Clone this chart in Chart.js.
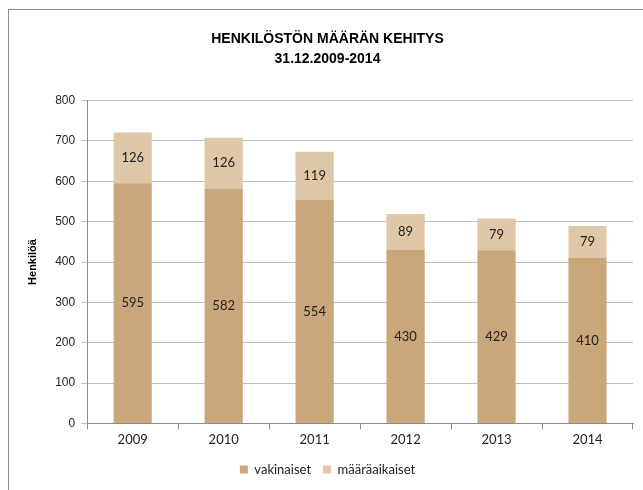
<!DOCTYPE html>
<html>
<head>
<meta charset="utf-8">
<script src="https://cdn.jsdelivr.net/npm/chart.js@4"></script>
<style>
  html, body { margin: 0; padding: 0; background: #fff; }
  #kehys { position: absolute; left: 8px; top: 9px; width: 660px; height: 500px; border-left: 1px solid #8c8c8c; border-top: 1px solid #8c8c8c; }
  #wrap { position: absolute; left: 0; top: 0; width: 643px; height: 490px; }
</style>
</head>
<body>
<div id="kehys"></div>
<div id="wrap"><canvas id="kaavio" width="643" height="490"></canvas></div>
<script>
const vuodet = ["2009", "2010", "2011", "2012", "2013", "2014"];
const vakinaiset = [595, 582, 554, 430, 429, 410];
const maaraaikaiset = [126, 126, 119, 89, 79, 79];
const yTikit = [0, 100, 200, 300, 400, 500, 600, 700, 800];

// arvot palkkien keskelle
const arvoTekstit = {
  id: "arvoTekstit",
  afterDatasetsDraw(chart) {
    const ctx = chart.ctx;
    ctx.save();
    ctx.font = "13px Lato, 'DejaVu Sans', sans-serif";
    ctx.fillStyle = "#222";
    ctx.textAlign = "center";
    ctx.textBaseline = "middle";
    chart.data.datasets.forEach((ds, i) => {
      chart.getDatasetMeta(i).data.forEach((bar, j) => {
        const keski = (bar.y + bar.base) / 2;
        ctx.fillText(ds.data[j], bar.x, keski);
      });
    });
    ctx.restore();
  }
};

new Chart(document.getElementById("kaavio"), {
  type: "bar",
  data: {
    labels: vuodet,
    datasets: [
      { label: "vakinaiset", data: vakinaiset, backgroundColor: "#c9a77b", borderWidth: 0 },
      { label: "määräaikaiset", data: maaraaikaiset, backgroundColor: "#dfc8a7", borderWidth: 0 }
    ]
  },
  options: {
    responsive: false,
    animation: false,
    layout: { padding: { left: 22, right: 10, top: 29, bottom: 4 } },
    datasets: { bar: { categoryPercentage: 1, barPercentage: 0.42 } },
    plugins: {
      title: {
        display: true,
        text: ["HENKILÖSTÖN MÄÄRÄN KEHITYS", "31.12.2009-2014"],
        color: "#000",
        font: { family: "'Liberation Sans Narrow', 'Liberation Sans', Arial, sans-serif", size: 14, weight: "bold", lineHeight: 1.45 },
        padding: { top: 0, bottom: 31 }
      },
      legend: {
        position: "bottom",
        labels: {
          color: "#222",
          boxWidth: 8,
          boxHeight: 8,
          padding: 12,
          font: { family: "Lato, 'DejaVu Sans', sans-serif", size: 13 }
        }
      },
      tooltip: { enabled: false }
    },
    scales: {
      x: {
        stacked: true,
        offset: true,
        grid: { display: true, drawOnChartArea: false, offset: true, tickLength: 6, color: "#8c8c8c" },
        border: { color: "#8c8c8c" },
        ticks: { color: "#222", font: { family: "Lato, 'DejaVu Sans', sans-serif", size: 13 }, padding: 3 }
      },
      y: {
        stacked: true,
        min: 0,
        max: 800,
        afterBuildTicks(axis) { axis.ticks = yTikit.map(v => ({ value: v })); },
        grid: { color: "#bfbfbf", tickLength: 6 },
        border: { color: "#8c8c8c" },
        ticks: { color: "#222", font: { family: "'Liberation Sans', Arial, sans-serif", size: 12 }, padding: 6 },
        title: {
          display: true,
          text: "Henkilöä",
          color: "#000",
          font: { family: "'Liberation Sans', Arial, sans-serif", size: 11, weight: "bold" },
          padding: { bottom: 10 }
        }
      }
    }
  },
  plugins: [arvoTekstit]
});
</script>
</body>
</html>
